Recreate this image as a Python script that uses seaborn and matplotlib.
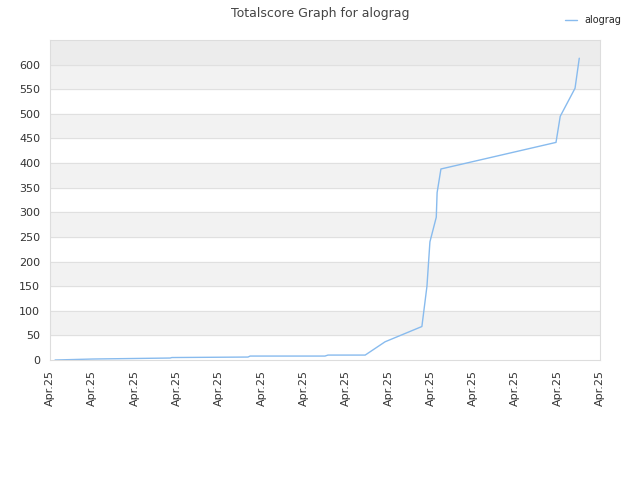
import matplotlib
matplotlib.use('Agg')
import matplotlib.pyplot as plt
import seaborn as sns
import pandas as pd

# data (x in tick units, 0..13)
x_pos = [0.12, 1.02, 2.84, 2.88, 4.68, 4.73, 6.5, 6.57, 7.45, 7.92, 8.79,
         8.91, 8.98, 9.13, 9.15, 9.24, 11.96, 12.06, 12.41, 12.51]
score = [0, 2, 4, 5, 6, 8, 8, 10, 10, 37, 68,
         150, 240, 290, 340, 388, 442, 495, 552, 613]
tick_labels = ['Apr.25'] * 14

sns.set_style('white')
plt.rcParams['font.family'] = ['DejaVu Sans']

df = pd.DataFrame({'x': x_pos, 'score': score})

fig = plt.figure(figsize=(6.4, 4.8), dpi=100)
ax = fig.add_axes([50 / 640, 120 / 480, 550 / 640, 320 / 480])

# horizontal bands
for lo in range(50, 600, 100):
    ax.axhspan(lo, lo + 50, color='#f2f2f2', zorder=0)
ax.axhspan(600, 650, color='#ececec', zorder=0)
for y in range(50, 650, 50):
    ax.axhline(y, color='#e0e0e0', lw=0.8, zorder=0.5)

sns.lineplot(data=df, x='x', y='score', ax=ax, color='#88bbee', lw=1,
             label='alograg')

ax.set_xlim(0, 13)
ax.set_ylim(0, 650)
ax.set_xticks(range(14))
ax.set_xticklabels(tick_labels, rotation=90, fontsize=8, color='#333333')
ax.set_yticks(range(0, 650, 50))
ax.tick_params(axis='y', labelsize=8, colors='#333333')
ax.set_xlabel('')
ax.set_ylabel('')
for s in ax.spines.values():
    s.set_color('#dddddd')

fig.suptitle('Totalscore Graph for alograg', fontsize=9, color='#444444', y=0.985)
ax.legend(loc='upper right', bbox_to_anchor=(1.055, 1.105),
          frameon=False, fontsize=7, handlelength=1.2)

fig.savefig('out.png', dpi=100)
